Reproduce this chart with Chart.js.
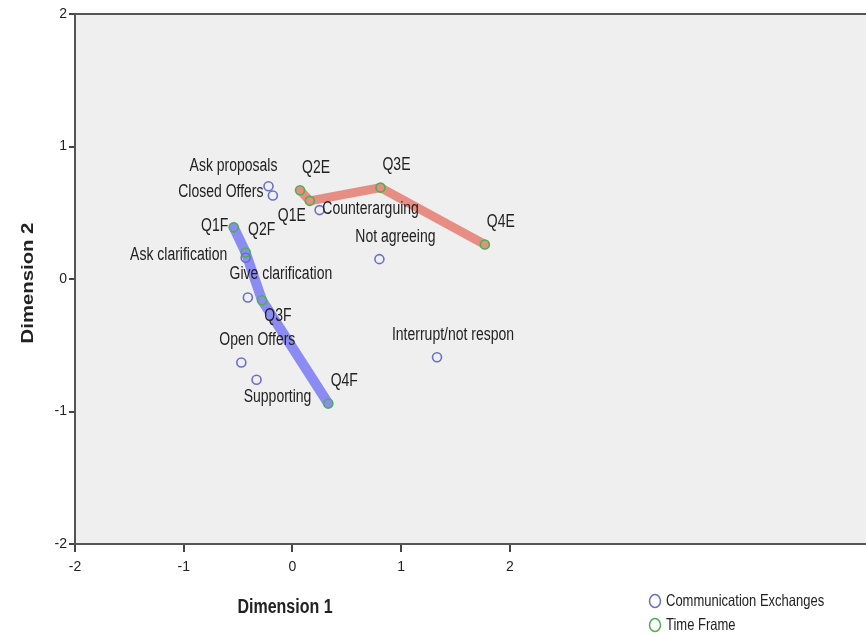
<!DOCTYPE html>
<html>
<head>
<meta charset="utf-8">
<script src="https://cdn.jsdelivr.net/npm/chart.js@4"></script>
<style>
  html, body { margin: 0; padding: 0; background: #fff; }
  #wrap { width: 866px; height: 636px; }
</style>
</head>
<body>
<div id="wrap"><canvas id="mdsCanvas" width="866" height="636"></canvas></div>
<script>
// communication exchanges (blue)
const commNames = ["Ask proposals", "Closed Offers", "Counterarguing", "Ask clarification",
  "Give clarification", "Open Offers", "Supporting", "Not agreeing", "Interrupt/not respon"];
const commX = [-0.22, -0.18, 0.25, -0.43, -0.41, -0.47, -0.33, 0.80, 1.33];
const commY = [0.70, 0.63, 0.52, 0.16, -0.14, -0.63, -0.76, 0.15, -0.59];

// time frame (green), E and F series
const timeNames = ["Q1E", "Q2E", "Q3E", "Q4E", "Q1F", "Q2F", "Q3F", "Q4F"];
const timeX = [0.16, 0.07, 0.81, 1.77, -0.54, -0.43, -0.28, 0.33];
const timeY = [0.59, 0.67, 0.69, 0.26, 0.39, 0.20, -0.16, -0.94];

const xTicks = [-2, -1, 0, 1, 2];
const yTicks = [-2, -1, 0, 1, 2];

// label placement relative to the point (px), default is up-right
const labelOffsets = {
  "Ask proposals": [-35, -20],
  "Closed Offers": [-52, -3],
  "Counterarguing": [51, -1],
  "Ask clarification": [-67, -3],
  "Give clarification": [33, -23],
  "Supporting": [21, 17],
  "Q1E": [-18, 15],
  "Q1F": [-19, -1],
  "Q3F": [16, 16],
};
const defaultOffset = [16, -22];

const TEXT_STRETCH = 1.27;
const FONT = '"Liberation Sans", Arial, sans-serif';

const commPoints = commNames.map((n, i) => ({ x: commX[i], y: commY[i], name: n }));
const timePoints = timeNames.map((n, i) => ({ x: timeX[i], y: timeY[i], name: n }));

// trajectories are joined in order of dimension 1
const pathE = timePoints.filter(p => p.name.endsWith("E")).sort((a, b) => a.x - b.x);
const pathF = timePoints.filter(p => p.name.endsWith("F")).sort((a, b) => a.x - b.x);

function stretchedText(ctx, text, x, y, font, align, rotate) {
  ctx.save();
  ctx.translate(x, y);
  if (rotate) ctx.rotate(-Math.PI / 2);
  if (rotate) ctx.scale(TEXT_STRETCH, 1); else ctx.scale(1, TEXT_STRETCH);
  ctx.font = font;
  ctx.textAlign = align || "center";
  ctx.textBaseline = "middle";
  ctx.fillStyle = "#222";
  ctx.fillText(text, 0, 0);
  ctx.restore();
}

// plot panel runs off the right edge of the picture
const plotBackground = {
  id: "plotBackground",
  beforeDraw(chart) {
    const { ctx, chartArea: a } = chart;
    ctx.save();
    ctx.fillStyle = "#efefef";
    ctx.fillRect(a.left, a.top, chart.width - a.left, a.bottom - a.top);
    ctx.restore();
  },
  afterDraw(chart) {
    const { ctx, chartArea: a } = chart;
    ctx.save();
    ctx.strokeStyle = "#555";
    ctx.lineWidth = 2;
    ctx.beginPath();
    ctx.moveTo(a.left - 1, a.top);
    ctx.lineTo(chart.width, a.top);
    ctx.moveTo(a.right - 1, a.bottom);
    ctx.lineTo(chart.width, a.bottom);
    ctx.stroke();
    ctx.restore();
  }
};

const textLayer = {
  id: "textLayer",
  afterDatasetsDraw(chart) {
    const { ctx, scales } = chart;
    const labelFont = "14px " + FONT;
    commPoints.concat(timePoints).forEach(p => {
      const off = labelOffsets[p.name] || defaultOffset;
      const px = scales.x.getPixelForValue(p.x);
      const py = scales.y.getPixelForValue(p.y);
      stretchedText(ctx, p.name, px + off[0], py + off[1], labelFont, "center");
    });

    // axis titles
    const a = chart.chartArea;
    stretchedText(ctx, "Dimension 1", 285, 607, "bold 16px " + FONT, "center");
    stretchedText(ctx, "Dimension 2", 29, (a.top + a.bottom) / 2 + 4, "bold 16px " + FONT, "center", true);

    // legend
    const legend = [["Communication Exchanges", "rgb(105,112,200)"], ["Time Frame", "rgb(80,175,80)"]];
    legend.forEach((item, i) => {
      const y = 601 + i * 24;
      ctx.save();
      ctx.strokeStyle = item[1];
      ctx.lineWidth = 1.5;
      ctx.beginPath();
      ctx.ellipse(655, y, 5.5, 6.5, 0, 0, Math.PI * 2);
      ctx.stroke();
      ctx.restore();
      stretchedText(ctx, item[0], 666, y, "13px " + FONT, "left");
    });
  }
};

const data = {
  datasets: [
    {
      label: "Communication Exchanges",
      data: commPoints,
      pointRadius: 4.5,
      pointBorderWidth: 1.6,
      pointBorderColor: "rgb(105,112,200)",
      pointBackgroundColor: "rgba(0,0,0,0)",
      showLine: false,
      order: 1,
    },
    {
      label: "Time Frame",
      data: timePoints,
      pointRadius: 4.5,
      pointBorderWidth: 1.6,
      pointBorderColor: "rgb(80,175,80)",
      pointBackgroundColor: "rgba(0,0,0,0)",
      showLine: false,
      order: 2,
    },
    {
      label: "E path",
      data: pathE,
      showLine: true,
      borderColor: "rgba(228,118,105,0.8)",
      borderWidth: 9,
      borderCapStyle: "round",
      borderJoinStyle: "round",
      pointRadius: 0,
      order: 3,
    },
    {
      label: "F path",
      data: pathF,
      showLine: true,
      borderColor: "rgba(110,110,245,0.78)",
      borderWidth: 10,
      borderCapStyle: "round",
      borderJoinStyle: "round",
      pointRadius: 0,
      order: 3,
    },
  ],
};

const tickFont = { family: FONT, size: 14 };

const config = {
  type: "scatter",
  data: data,
  options: {
    responsive: false,
    animation: false,
    layout: { padding: { top: 14, left: 0, right: -6, bottom: 0 } },
    plugins: {
      legend: { display: false },
      tooltip: { enabled: false },
    },
    scales: {
      x: {
        type: "linear",
        min: -2,
        max: 5.22,
        afterBuildTicks: (scale) => { scale.ticks = xTicks.map(v => ({ value: v })); },
        afterFit: (scale) => { scale.height = 92; },
        border: { display: true, color: "#555", width: 2 },
        grid: { drawOnChartArea: false, drawTicks: true, tickLength: 8, color: "#444", lineWidth: 2 },
        ticks: { color: "#222", font: tickFont, padding: 7, maxRotation: 0 },
      },
      y: {
        type: "linear",
        min: -2,
        max: 2,
        afterBuildTicks: (scale) => { scale.ticks = yTicks.map(v => ({ value: v })); },
        afterFit: (scale) => { scale.width = 75; },
        border: { display: true, color: "#555", width: 2 },
        grid: { drawOnChartArea: false, drawTicks: true, tickLength: 6, color: "#444", lineWidth: 2 },
        ticks: { color: "#222", font: tickFont, padding: 2 },
      },
    },
  },
  plugins: [plotBackground, textLayer],
};

const canvas = document.getElementById("mdsCanvas");
if (canvas) {
  new Chart(canvas.getContext("2d"), config);
} else {
  console.error("canvas not found");
}
</script>
</body>
</html>
